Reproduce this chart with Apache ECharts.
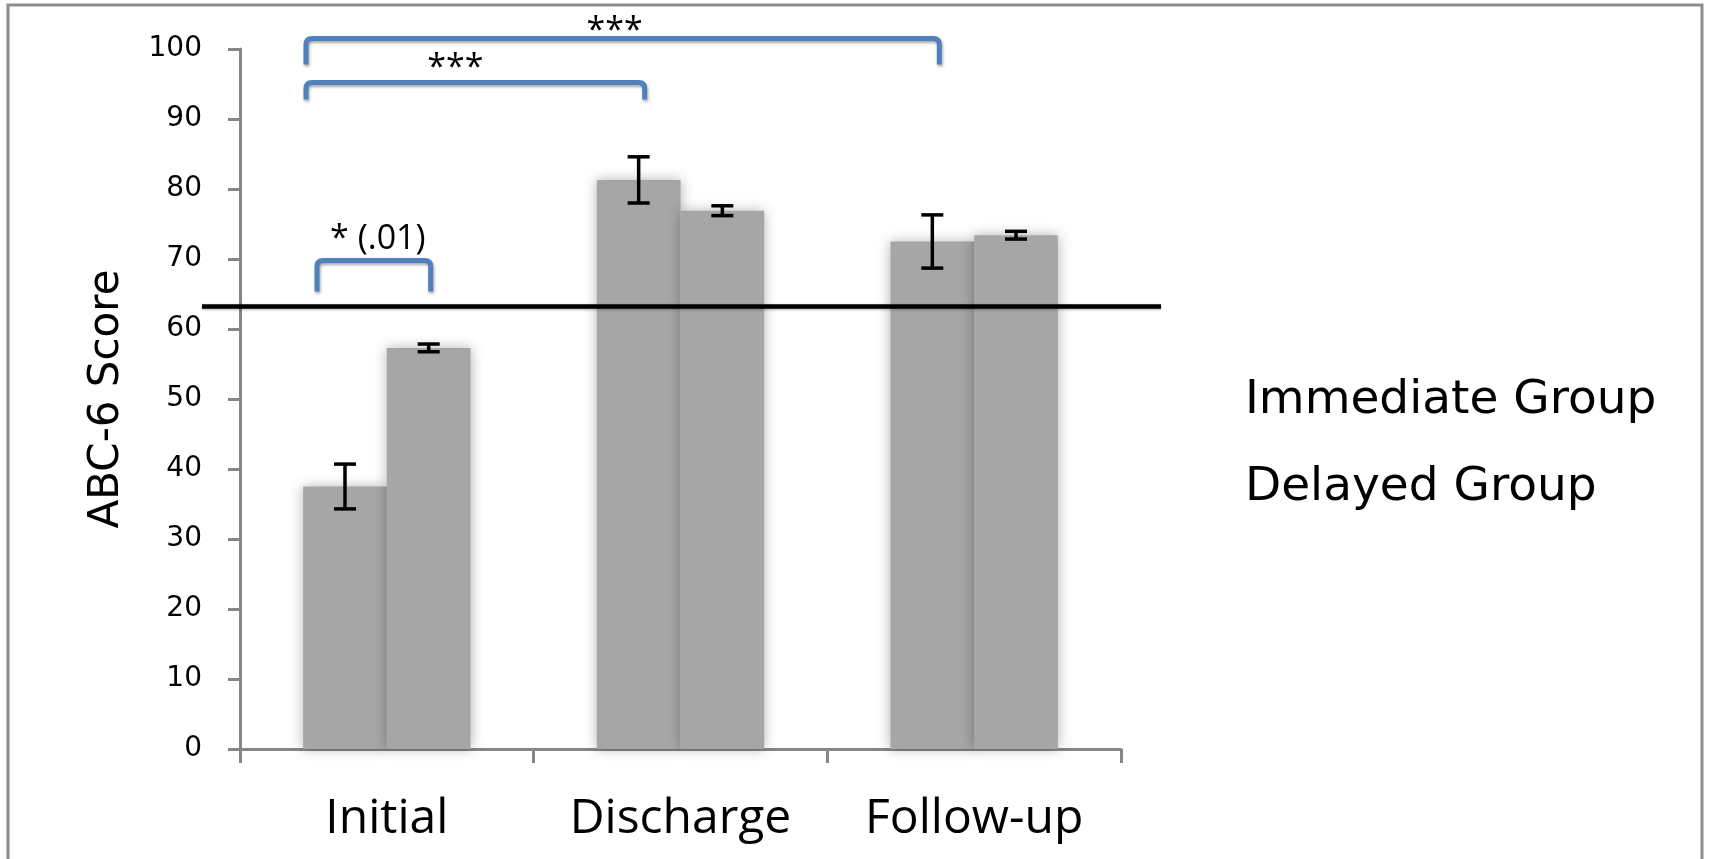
<!DOCTYPE html>
<html>
<head>
<meta charset="utf-8">
<script src="https://cdn.jsdelivr.net/npm/echarts@6/dist/echarts.min.js"></script>
<style>
html,body{margin:0;padding:0;background:#fff;}
#main{width:1710px;height:859px;}
</style>
</head>
<body>
<div id="main"></div>
<script>
// ---------- data ----------
const categories = ['Initial', 'Discharge', 'Follow-up'];
const groupNames = ['Immediate Group', 'Delayed Group'];
const immediateMeans = [37.5, 81.3, 72.5];
const delayedMeans = [57.3, 76.9, 73.4];
const immediateErr = [3.2, 3.3, 3.8];
const delayedErr = [0.55, 0.7, 0.55];
const yTickValues = [0, 10, 20, 30, 40, 50, 60, 70, 80, 90, 100];
const cutoffScore = 63.2;
// significance comparisons: [fromCategory, fromGroup] -> [toCategory, toGroup]
const sigFrom = [[0, 0], [0, 0], [0, 0]];
const sigTo = [[0, 1], [1, 0], [2, 0]];
const sigLevels = [69.8, 95.2, 101.5];
const sigLabels = ['* (.01)', '***', '***'];

// ---------- styles (not data) ----------
const BAR_FRACTION = 0.57;
const bracketStyle = [
  { dl: -28, dr: 2, leg: 31, lx: 4, ly: -21, fs: 34 },
  { dl: -39, dr: 6, leg: 17, lx: -20, ly: -14, fs: 34 },
  { dl: -39, dr: 7, leg: 26, lx: -8, ly: -7, fs: 34 }
];
const AXIS_GRAY = '#868686';
const BLUE = '#4f81bd';

const chart = echarts.init(document.getElementById('main'));

function barOffset(api, group) {
  const band = api.size([1, 0])[0];
  const barW = band * BAR_FRACTION / 2;
  return (group - 0.5) * barW;
}

function errorRender(group) {
  return function (params, api) {
    const c = api.value(0), m = api.value(1), e = api.value(2);
    const top = api.coord([c, m + e]);
    const bot = api.coord([c, m - e]);
    const x = top[0] + barOffset(api, group);
    const hw = 11;
    const st = { stroke: '#000', lineWidth: 3.5 };
    return {
      type: 'group',
      children: [
        { type: 'line', shape: { x1: x, y1: top[1], x2: x, y2: bot[1] }, style: st },
        { type: 'line', shape: { x1: x - hw, y1: top[1], x2: x + hw, y2: top[1] }, style: st },
        { type: 'line', shape: { x1: x - hw, y1: bot[1], x2: x + hw, y2: bot[1] }, style: st }
      ]
    };
  };
}

function bracketRender(params, api) {
  const i = params.dataIndex;
  const fc = api.value(0), fg = api.value(1), tc = api.value(2), tg = api.value(3), lvl = api.value(4);
  const s = bracketStyle[i];
  const p1 = api.coord([fc, lvl]);
  const p2 = api.coord([tc, lvl]);
  const xl = p1[0] + barOffset(api, fg) + s.dl;
  const xr = p2[0] + barOffset(api, tg) + s.dr;
  const yt = p1[1];
  const yb = yt + s.leg;
  const r = 6;
  const d = 'M' + xl + ' ' + yb + ' L' + xl + ' ' + (yt + r) + ' Q' + xl + ' ' + yt + ' ' + (xl + r) + ' ' + yt +
    ' L' + (xr - r) + ' ' + yt + ' Q' + xr + ' ' + yt + ' ' + xr + ' ' + (yt + r) + ' L' + xr + ' ' + yb;
  return {
    type: 'group',
    children: [
      {
        type: 'path',
        shape: { pathData: d },
        style: {
          stroke: BLUE, lineWidth: 5, fill: null,
          shadowBlur: 3, shadowColor: 'rgba(0,0,0,0.35)', shadowOffsetX: 1, shadowOffsetY: 2
        }
      },
      {
        type: 'text',
        x: (xl + xr) / 2 + s.lx,
        y: yt + s.ly,
        style: {
          text: sigLabels[i],
          fontFamily: 'Open Sans', fontSize: s.fs, fill: '#000',
          align: 'center', verticalAlign: 'middle'
        }
      }
    ]
  };
}

function cutoffRender(params, api) {
  const y = api.coord([0, api.value(1)])[1];
  const cs = params.coordSys;
  return {
    type: 'line',
    shape: { x1: cs.x - 38, y1: y, x2: cs.x + cs.width + 40, y2: y },
    style: { stroke: '#000', lineWidth: 4.5, shadowBlur: 3, shadowColor: 'rgba(0,0,0,0.3)', shadowOffsetY: 1 }
  };
}

const barItemStyle = {
  color: '#a6a6a6',
  shadowBlur: 12,
  shadowColor: 'rgba(0,0,0,0.3)'
};

const option = {
  backgroundColor: '#fff',
  animation: false,
  grid: { left: 240, right: 589, top: 49, bottom: 110 },
  legend: {
    data: groupNames,
    orient: 'vertical',
    left: 1240,
    top: 377,
    padding: 0,
    itemGap: 40,
    itemWidth: 0,
    itemHeight: 0,
    selectedMode: false,
    textStyle: { fontFamily: 'DejaVu Sans', fontSize: 47, color: '#000' }
  },
  xAxis: {
    type: 'category',
    data: categories,
    axisLine: { lineStyle: { color: AXIS_GRAY, width: 3 } },
    axisTick: { show: true, length: 14, lineStyle: { color: AXIS_GRAY, width: 3 } },
    axisLabel: { fontFamily: 'Open Sans', fontSize: 48, color: '#000', margin: 46 },
    splitLine: { show: false }
  },
  yAxis: {
    type: 'value',
    min: yTickValues[0],
    max: yTickValues[yTickValues.length - 1],
    interval: yTickValues[1] - yTickValues[0],
    name: 'ABC-6 Score',
    nameLocation: 'middle',
    nameGap: 112,
    nameTextStyle: { fontFamily: 'DejaVu Sans', fontSize: 42, color: '#000' },
    axisLine: { show: true, lineStyle: { color: AXIS_GRAY, width: 3 } },
    axisTick: { show: true, length: 12, lineStyle: { color: AXIS_GRAY, width: 3 } },
    axisLabel: { fontFamily: 'DejaVu Sans', fontSize: 28, color: '#000', margin: 38 },
    splitLine: { show: false }
  },
  graphic: [{
    type: 'rect',
    shape: { x: 8, y: 5, width: 1694, height: 900 },
    style: { stroke: '#8c8c8c', lineWidth: 3, fill: null },
    silent: true
  }],
  series: [
    {
      name: groupNames[0], type: 'bar', data: immediateMeans,
      barGap: '0%', barCategoryGap: ((1 - BAR_FRACTION) * 100) + '%',
      itemStyle: barItemStyle, z: 2
    },
    {
      name: groupNames[1], type: 'bar', data: delayedMeans,
      barGap: '0%', barCategoryGap: ((1 - BAR_FRACTION) * 100) + '%',
      itemStyle: barItemStyle, z: 2
    },
    {
      name: 'cutoff', type: 'custom', renderItem: cutoffRender,
      data: [[0, cutoffScore]], encode: { x: 0, y: 1 }, z: 5, silent: true
    },
    {
      name: 'err-immediate', type: 'custom', renderItem: errorRender(0),
      data: categories.map((c, i) => [i, immediateMeans[i], immediateErr[i]]),
      encode: { x: 0, y: 1 }, z: 6, silent: true
    },
    {
      name: 'err-delayed', type: 'custom', renderItem: errorRender(1),
      data: categories.map((c, i) => [i, delayedMeans[i], delayedErr[i]]),
      encode: { x: 0, y: 1 }, z: 6, silent: true
    },
    {
      name: 'brackets', type: 'custom', renderItem: bracketRender,
      data: sigLabels.map((l, i) => [sigFrom[i][0], sigFrom[i][1], sigTo[i][0], sigTo[i][1], sigLevels[i]]),
      encode: { x: 0, y: 4 }, z: 7, silent: true, clip: false
    }
  ]
};
chart.setOption(option);
</script>
</body>
</html>
